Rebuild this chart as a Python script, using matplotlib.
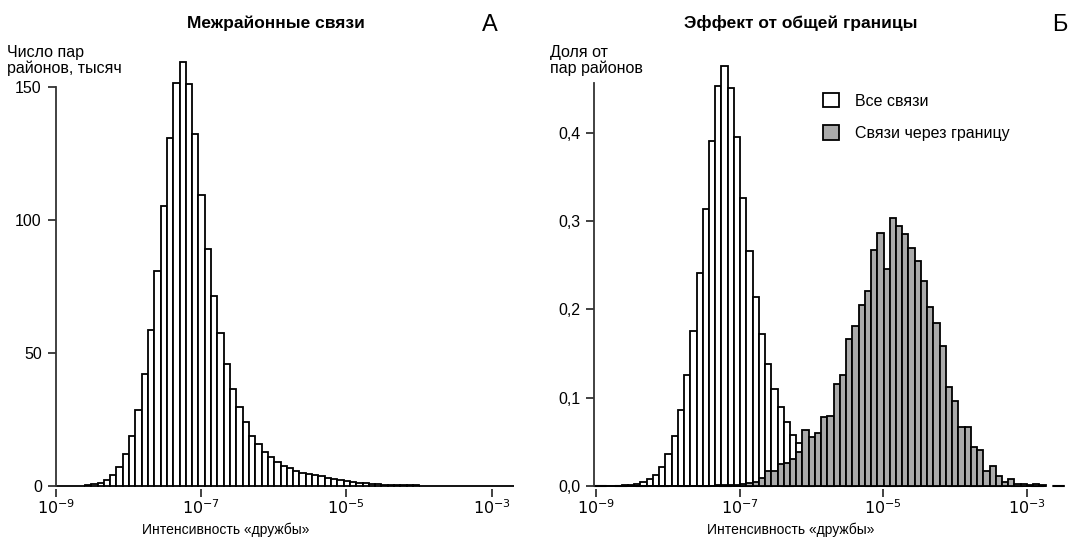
import numpy as np
import matplotlib
matplotlib.use('Agg')
import matplotlib.pyplot as plt
from matplotlib.patches import Patch

plt.rcParams['font.family'] = ['Liberation Sans', 'DejaVu Sans']

# ---- данные (ln-бины шириной 0.2) ----
bin_w = 0.2

# панель А: левые края бинов от ln = -20.8, тысячи пар районов
a_start = -20.8
a_counts = [0, 0, 0.02, 0.05, 0.1, 0.3, 0.6, 1.3, 2.3, 4.1,
            7.1, 12.0, 18.8, 28.7, 42.0, 58.6, 80.9, 105.3, 131.0, 151.7,
            159.5, 151.4, 132.3, 109.5, 89.2, 71.6, 57.6, 46.0, 36.6, 29.8,
            24.0, 18.9, 15.9, 12.9, 11.0, 9.1, 7.5, 6.6, 5.7, 5.0,
            4.5, 4.1, 3.6, 3.1, 2.7, 2.4, 2.0, 1.6, 1.3, 1.1,
            0.9, 0.7, 0.55, 0.45, 0.35, 0.3, 0.25, 0.2, 0.15, 0.1,
            0.08, 0.06, 0.05, 0.04, 0.03, 0.02, 0.02, 0.01, 0.01, 0.01,
            0.005, 0.005, 0]

# панель Б: левые края бинов от ln = -20.7, доли
b_start = -20.7
b_all = [0, 0, 0.0001, 0.0002, 0.0005, 0.0011, 0.0019, 0.0042, 0.0075, 0.0125,
         0.0215, 0.0362, 0.0566, 0.0861, 0.1257, 0.1755, 0.2408, 0.3137, 0.391, 0.4534,
         0.476, 0.4504, 0.3949, 0.3265, 0.2661, 0.2144, 0.1718, 0.1378, 0.1099, 0.0898,
         0.0721, 0.0578, 0.0483, 0.040, 0.033, 0.028, 0.024, 0.021, 0.018, 0.016,
         0.014, 0.012, 0.010, 0.009, 0.008, 0.007, 0.006, 0.005, 0.004, 0.0035,
         0.003, 0.0025, 0.002, 0.0016, 0.0013, 0.0011, 0.0009, 0.0007, 0.0006, 0.0005,
         0.0004, 0.0003, 0.0003, 0.0002, 0.0002, 0.0001, 0.0001, 0.0001, 0.0001, 0,
         0, 0]
b_border = [0] * 18 + [
    0.0003, 0.0005, 0.0008, 0.001, 0.0015, 0.002, 0.003, 0.004, 0.0094, 0.0173,
    0.017, 0.0245, 0.0257, 0.030, 0.038, 0.0634, 0.055, 0.0597, 0.0785, 0.0797,
    0.1155, 0.1257, 0.1665, 0.1816, 0.205, 0.2208, 0.2673, 0.2862, 0.2458, 0.3031,
    0.2944, 0.2854, 0.2699, 0.2552, 0.2325, 0.2031, 0.1842, 0.1585, 0.1125, 0.0966,
    0.0672, 0.0664, 0.0438, 0.0408, 0.0173, 0.0230, 0.0113, 0.0049, 0.0076, 0.0026,
    0.0019, 0.001, 0.0019, 0.0005]

x_ticks = [1e-9, 1e-7, 1e-5, 1e-3]
x_ticklabels = ['$10^{-9}$', '$10^{-7}$', '$10^{-5}$', '$10^{-3}$']
a_yticks = [0, 50, 100, 150]
b_yticks = [0.0, 0.1, 0.2, 0.3, 0.4]
b_yticklabels = ['0,0', '0,1', '0,2', '0,3', '0,4']


def edges(start, n):
    e = start + bin_w * np.arange(n + 1)
    return np.exp(e)


def style_axes(ax):
    ax.set_xscale('log')
    for s in ['top', 'right', 'bottom']:
        ax.spines[s].set_visible(False)
    ax.spines['left'].set_linewidth(1.3)
    ax.spines['left'].set_color('#333333')
    ax.tick_params(direction='out', length=6, width=1.3, color='#333333',
                   labelsize=11.5, pad=4)
    ax.tick_params(axis='x', pad=1)
    ax.xaxis.set_minor_locator(matplotlib.ticker.NullLocator())
    ax.set_xticks(x_ticks)
    ax.set_xticklabels(x_ticklabels)


fig = plt.figure(figsize=(10.68, 5.41), dpi=100)

# ---- А ----
axA = fig.add_axes([0.0522, 0.0967, 0.4347, 0.8157])
eA = edges(a_start, len(a_counts))
cA = np.sqrt(eA[:-1] * eA[1:])
axA.hist(cA, bins=eA, weights=a_counts, color='white', edgecolor='black', linewidth=1.3)
style_axes(axA)
axA.set_xlim(1e-9, 10 ** -2.61)
axA.set_ylim(-1, 165)
axA.spines['left'].set_bounds(0, 150)
axA.set_yticks(a_yticks)

# ---- Б ----
axB = fig.add_axes([0.5565, 0.0969, 0.4435, 0.8208])
eB = edges(b_start, len(b_all))
cB = np.sqrt(eB[:-1] * eB[1:])
axB.axhline(0, color='black', linewidth=1.5, linestyle=(0, (6, 4)), zorder=0)
axB.hist(cB, bins=eB, weights=b_all, color='white', edgecolor='black', linewidth=1.3)
axB.hist(cB, bins=eB, weights=b_border, color='#aaaaaa', edgecolor='black', linewidth=1.3)
style_axes(axB)
axB.set_xlim(10 ** -9.0237, 10 ** -2.4244)
axB.set_ylim(-0.003, 0.5)
axB.spines['left'].set_bounds(0, 0.456)
axB.set_yticks(b_yticks)
axB.set_yticklabels(b_yticklabels)

handles = [Patch(facecolor='white', edgecolor='black', linewidth=1.3),
           Patch(facecolor='#aaaaaa', edgecolor='black', linewidth=1.3)]
axB.legend(handles, ['Все связи', 'Связи через границу'], loc='upper left',
           bbox_to_anchor=(823 / 1068, 1 - 93 / 541), bbox_transform=fig.transFigure,
           frameon=False, fontsize=11.5, handlelength=1.0, handleheight=1.0,
           handletextpad=1.0, labelspacing=1.05, borderaxespad=0, borderpad=0)

# ---- подписи ----
fig.text(276 / 1068, 1 - 23 / 541, 'Межрайонные связи', ha='center', va='center',
         fontsize=12.5, fontweight='bold')
fig.text(801 / 1068, 1 - 23 / 541, 'Эффект от общей границы', ha='center', va='center',
         fontsize=12.5, fontweight='bold')
fig.text(498 / 1068, 1 - 25 / 541, 'А', ha='right', va='center', fontsize=17)
fig.text(1068 / 1068, 1 - 25 / 541, 'Б', ha='right', va='center', fontsize=17)
fig.text(7 / 1068, 1 - 45 / 541, 'Число пар\nрайонов, тысяч', ha='left', va='top',
         fontsize=11.5, linespacing=1.05)
fig.text(550 / 1068, 1 - 45 / 541, 'Доля от\nпар районов', ha='left', va='top',
         fontsize=11.5, linespacing=1.05)
fig.text(226 / 1068, 1 - 530 / 541, 'Интенсивность «дружбы»', ha='center', va='center',
         fontsize=10)
fig.text(791 / 1068, 1 - 530 / 541, 'Интенсивность «дружбы»', ha='center', va='center',
         fontsize=10)

fig.savefig('out.png', dpi=100)
